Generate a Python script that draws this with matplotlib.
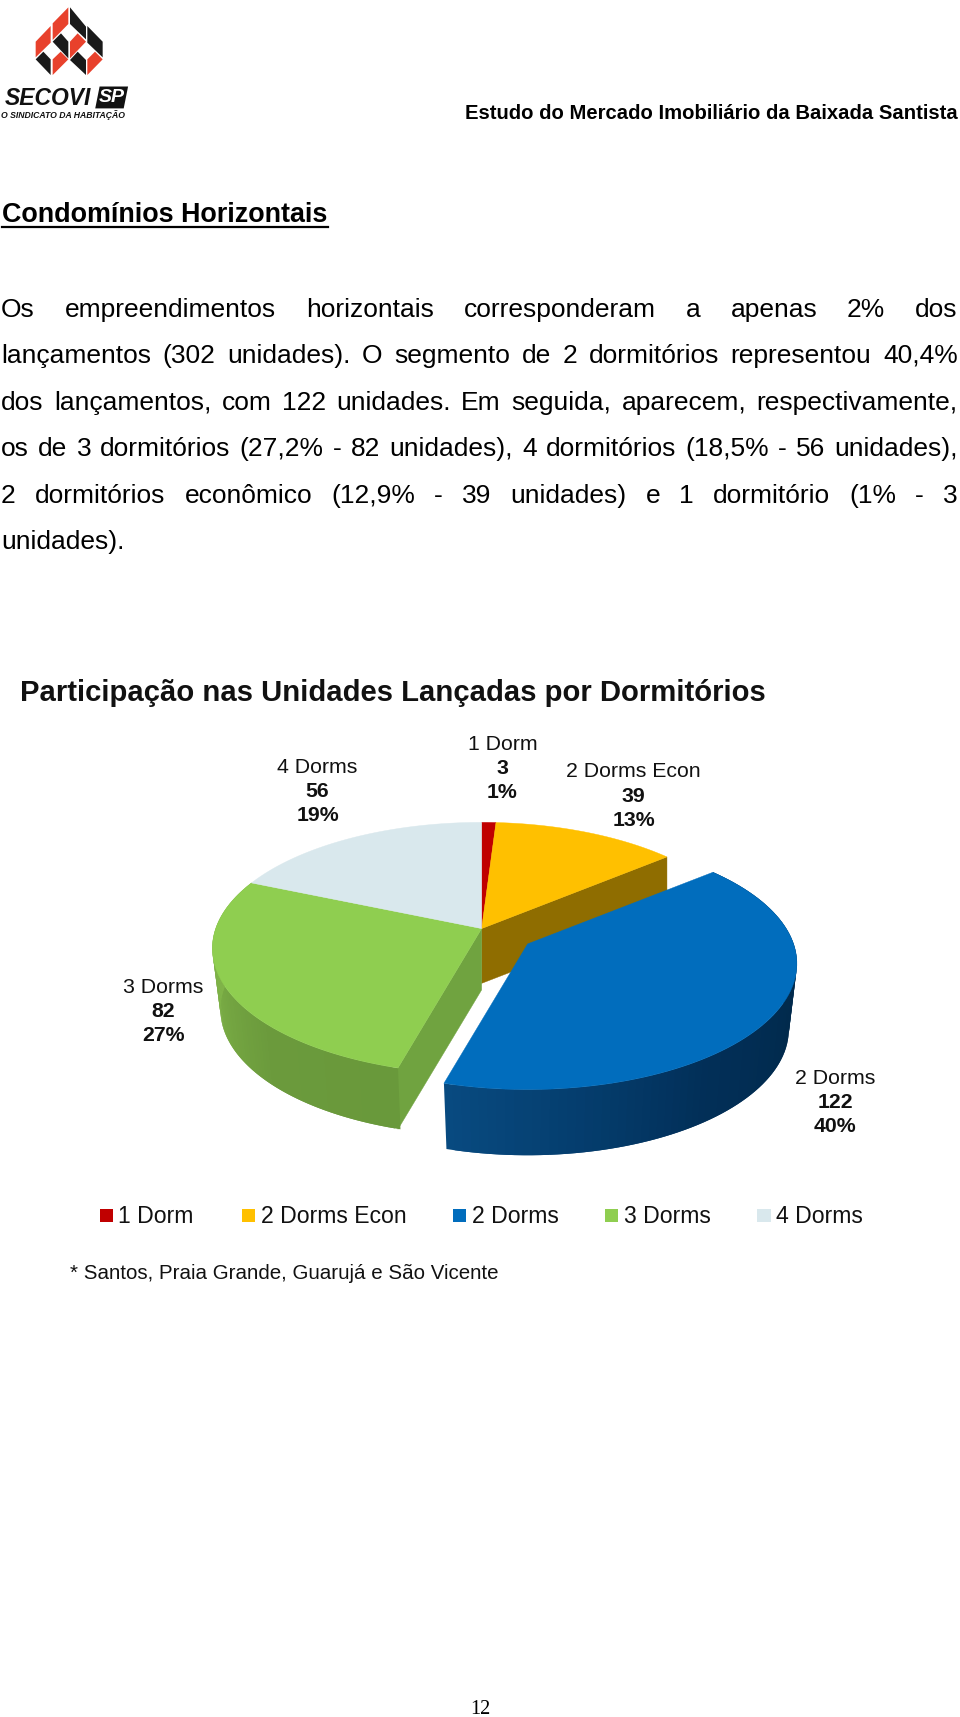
import matplotlib
matplotlib.use("Agg")
import matplotlib.pyplot as plt
import numpy as np
from matplotlib.colors import to_rgb
from matplotlib.patches import Polygon, Rectangle

plt.rcParams['font.family'] = ['Liberation Sans', 'DejaVu Sans']

categories = ["1 Dorm", "2 Dorms Econ", "2 Dorms", "3 Dorms", "4 Dorms"]
units = [3, 39, 122, 82, 56]
pct_labels = ["1%", "13%", "40%", "27%", "19%"]
colors = ["#c00000", "#ffc000", "#016dbd", "#8fce50", "#d9e8ed"]

header = "Estudo do Mercado Imobiliário da Baixada Santista"
heading = "Condomínios Horizontais"
body_lines = [
    "Os empreendimentos horizontais corresponderam a apenas 2% dos",
    "lançamentos (302 unidades). O segmento de 2 dormitórios representou 40,4%",
    "dos lançamentos, com 122 unidades. Em seguida, aparecem, respectivamente,",
    "os de 3 dormitórios (27,2% - 82 unidades), 4 dormitórios (18,5% - 56 unidades),",
    "2 dormitórios econômico (12,9% - 39 unidades) e 1 dormitório (1% - 3",
]
last_line = "unidades)."
chart_title = "Participação nas Unidades Lançadas por Dormitórios"
footnote = "* Santos, Praia Grande, Guarujá e São Vicente"

# axes run in the coordinates of the shrunk page
fig = plt.figure(figsize=(9.6, 17.17), dpi=100)
ax = fig.add_axes([0, 0, 1, 1])
ax.set_xlim(0, 877)
ax.set_ylim(1568, 0)
ax.axis("off")

# logo
k = 0.3045
logo_red = [[(205, 22), (158, 70), (158, 120), (205, 72)],
            [(152, 78), (107, 125), (107, 172), (152, 128)],
            [(210, 125), (233, 100), (258, 125), (210, 175)],
            [(158, 178), (182, 155), (205, 178), (158, 225)],
            [(262, 178), (285, 155), (308, 178), (262, 225)]]
logo_black = [[(210, 22), (258, 80), (258, 118), (210, 72)],
              [(262, 78), (308, 125), (308, 172), (262, 128)],
              [(158, 125), (183, 100), (205, 125), (205, 175)],
              [(107, 178), (130, 155), (152, 178), (152, 225)],
              [(210, 180), (233, 155), (258, 180), (258, 225)]]
for p in logo_red:
    ax.add_patch(Polygon(np.array(p) * k, color="#e8412c", lw=0))
for p in logo_black:
    ax.add_patch(Polygon(np.array(p) * k, color="#1a1a1a", lw=0))
ax.text(4, 90, "SECOVI", fontsize=16.5, weight="bold", style="italic", color="#111111", va="center", ha="left")
ax.add_patch(Polygon([(91, 79), (117, 79), (113, 99), (87, 99)], color="#111111", lw=0))
ax.text(102, 89, "SP", fontsize=14, weight="bold", style="italic", color="white", va="center", ha="center")
ax.text(1, 105, "O SINDICATO DA HABITAÇÃO", fontsize=6.2, weight="bold", style="italic", color="#111111", va="center", ha="left")

ax.text(875, 104, header, fontsize=14.6, weight="bold", ha="right", va="center")
ax.text(2, 196, heading, fontsize=19.4, weight="bold", ha="left", va="center")
ax.plot([2, 300], [207, 207], color="black", lw=1.6)

# justified body text, word by word
body_size = 19.0
r = fig.canvas.get_renderer()
body_y = [283, 325, 368, 410, 453]
for line, y in zip(body_lines, body_y):
    words = line.split()
    widths = []
    for w in words:
        t = ax.text(0, y, w, fontsize=body_size)
        bb = t.get_window_extent(r)
        widths.append(bb.width * 877 / 960)
        t.remove()
    gap = (875 - 1 - sum(widths)) / (len(words) - 1)
    x = 1
    for w, wd in zip(words, widths):
        ax.text(x, y, w, fontsize=body_size, ha="left", va="center")
        x += wd + gap
ax.text(1, 495, last_line, fontsize=body_size, ha="left", va="center")

ax.text(18, 633, chart_title, fontsize=21.1, weight="bold", ha="left", va="center", color="#111111")

# 3d pie, perspective puts the apex above the centre of the ellipse
cx, cy, rx, ry = 440, 866, 246, 115
a = 18 / ry
fr = np.cumsum([0] + units) / sum(units)


def rim(frac, dx=0, dy=0, depth=0, shrink=1.0):
    th = np.asarray(frac) * 2 * np.pi
    den = 1 + a * np.cos(th)
    u = np.sin(th) * np.sqrt(1 - a * a) / den
    v = (np.cos(th) + a) / den
    return np.column_stack([cx + dx + rx * shrink * u, cy + dy - ry * v + depth])


def top_face(i, dx=0, dy=0):
    arc = rim(np.linspace(fr[i], fr[i + 1], 80), dx, dy)
    pts = np.vstack([[cx + dx, cy - 18 + dy], arc])
    ax.add_patch(Polygon(pts, closed=True, facecolor=colors[i], edgecolor=colors[i], lw=0.3))


def side_wall(f0, f1, depth, stops, dx=0, dy=0):
    steps = np.linspace(f0, f1, 90)
    pos, cols = zip(*stops)
    cols = np.array([to_rgb(c) for c in cols])
    for j in range(len(steps) - 1):
        # each strip reaches over the next one so no seams show
        up = rim(steps[j:j + 3], dx, dy)
        lo = rim(steps[j:j + 3], dx, dy, depth, 0.97)
        s = j / (len(steps) - 2)
        c = [np.interp(s, pos, cols[:, n]) for n in range(3)]
        ax.add_patch(Polygon(np.vstack([up, lo[::-1]]), closed=True, facecolor=c, lw=0))


def inner_wall(frac, depth, color, dx=0, dy=0):
    p = rim([frac], dx, dy)[0]
    pts = [(cx + dx, cy - 18 + dy), p, (p[0], p[1] + depth), (cx + dx, cy - 18 + dy + depth)]
    ax.add_patch(Polygon(pts, closed=True, facecolor=color, edgecolor=color, lw=0.3))


# yellow inner cut, at the back
inner_wall(fr[2], 50, "#8f6d00")
# green
inner_wall(fr[3], 56, "#70a340")
side_wall(fr[3], fr[4], 56, [(0, "#69993b"), (0.3, "#6b9a3c"), (0.7, "#7fb348"), (1, "#82b64a")])
for i in [0, 1, 3, 4]:
    top_face(i)
# exploded blue slice
sx, sy = 42, 14
side_wall(fr[3], fr[2], 60, [(0, "#084a80"), (0.15, "#053f70"), (0.35, "#022f58"), (0.6, "#012a4c"), (1, "#012c50")], sx, sy)
top_face(2, sx, sy)

# data labels
label_x = [459, 579, 763, 149, 290]
label_y = [680, 705, 985, 902, 701]
for i in range(5):
    ax.text(label_x[i], label_y[i], categories[i], fontsize=15.3, ha="center", va="center", color="#111111")
    ax.text(label_x[i], label_y[i] + 22, str(units[i]), fontsize=15.3, weight="bold", ha="center", va="center", color="#111111")
    ax.text(label_x[i], label_y[i] + 44, pct_labels[i], fontsize=15.3, weight="bold", ha="center", va="center", color="#111111")

# legend
leg_x = [91, 221, 414, 553, 692]
for i in range(5):
    ax.add_patch(Rectangle((leg_x[i], 1104), 12, 12, color=colors[i], lw=0))
    ax.text(leg_x[i] + 17, 1111, categories[i], fontsize=16.6, ha="left", va="center", color="#111111")

ax.text(64, 1163, footnote, fontsize=14.75, ha="left", va="center", color="#111111")
ax.text(439, 1561, "12", fontsize=14.5, family="Liberation Serif", ha="center", va="center")

fig.savefig("out.png", dpi=100)
